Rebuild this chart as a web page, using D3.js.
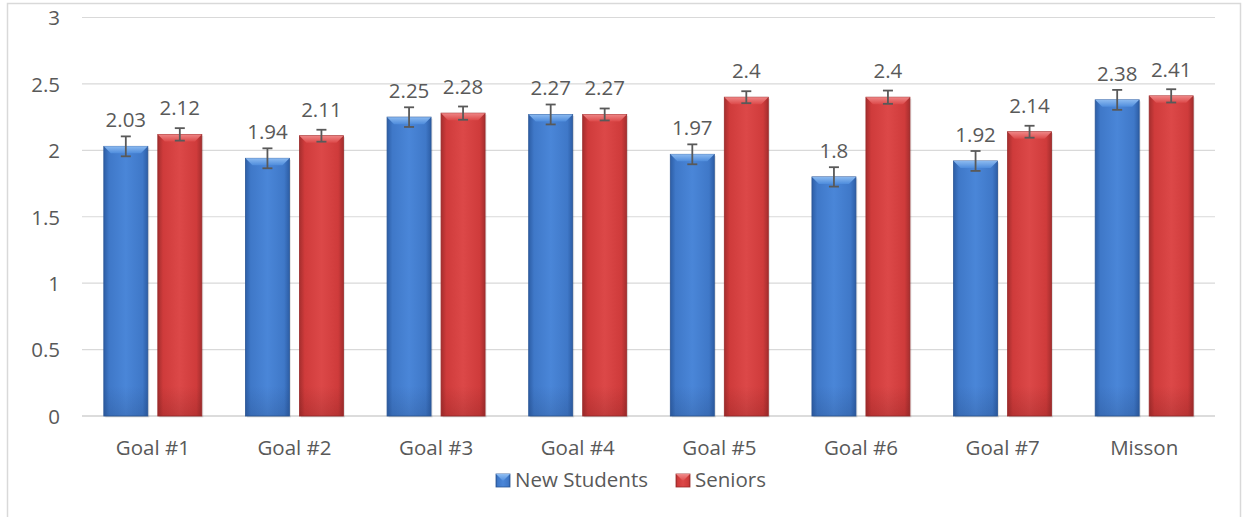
<!DOCTYPE html>
<html>
<head>
<meta charset="utf-8">
<script src="https://cdn.jsdelivr.net/npm/d3@7"></script>
<style>
  html, body { margin: 0; padding: 0; background: #fff; }
  svg { display: block; }
  text { font-family: "Open Sans", "Noto Sans", sans-serif; fill: #595959; }
</style>
</head>
<body>
<svg id="chart" width="1248" height="517"></svg>
<script>
const categories = ["Goal #1", "Goal #2", "Goal #3", "Goal #4", "Goal #5", "Goal #6", "Goal #7", "Misson"];
const seriesNames = ["New Students", "Seniors"];
const newStudents = [2.03, 1.94, 2.25, 2.27, 1.97, 1.80, 1.92, 2.38];
const seniors = [2.12, 2.11, 2.28, 2.27, 2.40, 2.40, 2.14, 2.41];
const newStudentsErr = [0.075, 0.075, 0.074, 0.075, 0.075, 0.073, 0.075, 0.075];
const seniorsErr = [0.047, 0.045, 0.05, 0.045, 0.045, 0.05, 0.045, 0.05];
const yTicks = [0, 0.5, 1, 1.5, 2, 2.5, 3];

const svg = d3.select("#chart");
const plot = { left: 82, right: 1215, top: 17.5, bottom: 416 };
const FS = 20.5;

// outer border
svg.append("rect").attr("x", 7.5).attr("y", 3.5).attr("width", 1233).attr("height", 530)
  .attr("fill", "#fff").attr("stroke", "#d9d9d9").attr("stroke-width", 1.5);

const defs = svg.append("defs");
function makeGrad(id, dark, mid, light) {
  const g = defs.append("linearGradient").attr("id", id).attr("x1", "0").attr("x2", "1").attr("y1", "0").attr("y2", "0");
  g.append("stop").attr("offset", "0%").attr("stop-color", dark);
  g.append("stop").attr("offset", "12%").attr("stop-color", mid);
  g.append("stop").attr("offset", "50%").attr("stop-color", light);
  g.append("stop").attr("offset", "88%").attr("stop-color", mid);
  g.append("stop").attr("offset", "100%").attr("stop-color", dark);
}
function makeVGrad(id, top, bottom) {
  const g = defs.append("linearGradient").attr("id", id).attr("x1", "0").attr("x2", "0").attr("y1", "0").attr("y2", "1");
  g.append("stop").attr("offset", "0%").attr("stop-color", top);
  g.append("stop").attr("offset", "100%").attr("stop-color", bottom);
}
makeGrad("gBlue", "#2d5ea6", "#3f78c8", "#4a86d8");
makeGrad("gRed", "#a52e2e", "#cf3b3b", "#dc4848");
makeVGrad("tBlue", "#8fbdf2", "#4f8ddd");
makeVGrad("tRed", "#f08a8a", "#dd4a4a");
makeVGrad("bBlue", "rgba(30,60,110,0)", "rgba(30,60,110,0.22)");
makeVGrad("bRed", "rgba(100,20,20,0)", "rgba(100,20,20,0.22)");
const fills = [{ body: "url(#gBlue)", top: "url(#tBlue)", bot: "url(#bBlue)", edge: "#2a5595" },
               { body: "url(#gRed)", top: "url(#tRed)", bot: "url(#bRed)", edge: "#9a2a2a" }];

const y = d3.scaleLinear().domain([0, 3]).range([plot.bottom, plot.top]);
const x0 = d3.scaleBand().domain(categories).range([plot.left, plot.right]).paddingInner(0).paddingOuter(0);
const groupW = 98;
const x1 = d3.scaleBand().domain(seriesNames).range([0, groupW]).paddingInner(0.185).paddingOuter(0);

// gridlines
svg.append("g").selectAll("line").data(yTicks).join("line")
  .attr("x1", plot.left).attr("x2", plot.right)
  .attr("y1", d => y(d)).attr("y2", d => y(d))
  .attr("stroke", d => d === 0 ? "#d0d0d0" : "#d9d9d9").attr("stroke-width", d => d === 0 ? 1.5 : 1.2);

// y axis labels
const yAxis = d3.axisLeft(y).tickValues(yTicks).tickFormat(d3.format("~g")).tickSize(0).tickPadding(0);
const ya = svg.append("g").attr("transform", `translate(60,0)`).call(yAxis);
ya.select(".domain").remove();
ya.selectAll("text").attr("font-size", FS).attr("fill", "#595959").attr("dy", "0.36em")
  .style("font-family", '"Open Sans", sans-serif');

// x axis labels
const xAxis = d3.axisBottom(x0).tickSize(0).tickPadding(0);
const xa = svg.append("g").attr("transform", `translate(0,${plot.bottom})`).call(xAxis);
xa.select(".domain").remove();
xa.selectAll("text").attr("font-size", FS).attr("fill", "#595959").attr("dy", 0).attr("y", 39)
  .style("font-family", '"Open Sans", sans-serif');

const data = categories.map((c, i) => ({
  cat: c,
  vals: [
    { s: seriesNames[0], v: newStudents[i], e: newStudentsErr[i], k: 0 },
    { s: seriesNames[1], v: seniors[i], e: seniorsErr[i], k: 1 }
  ]
}));

const groups = svg.append("g").selectAll("g").data(data).join("g")
  .attr("transform", d => `translate(${x0(d.cat) + x0.bandwidth() / 2 - groupW / 2},0)`);

const bars = groups.selectAll("g.bar").data(d => d.vals).join("g").attr("class", "bar");
const bw = x1.bandwidth();
// shadow
bars.append("rect")
  .attr("x", d => x1(d.s) + 1.5).attr("y", d => y(d.v) + 1.5)
  .attr("width", bw).attr("height", d => y(0) - y(d.v))
  .attr("fill", "rgba(0,0,0,0.10)");
bars.append("rect")
  .attr("x", d => x1(d.s)).attr("y", d => y(d.v))
  .attr("width", bw).attr("height", d => y(0) - y(d.v))
  .attr("fill", d => fills[d.k].body)
  .attr("stroke", d => fills[d.k].edge).attr("stroke-width", 0.8);
// bottom darkening
bars.append("rect")
  .attr("x", d => x1(d.s) + 0.5).attr("y", d => y(0) - 30)
  .attr("width", bw - 1).attr("height", 30)
  .attr("fill", d => fills[d.k].bot);
// top bevel
const bev = 7;
bars.append("path")
  .attr("d", d => {
    const xl = x1(d.s), xr = xl + bw, yt = y(d.v);
    return `M${xl},${yt} L${xr},${yt} L${xr - bev},${yt + bev} L${xl + bev},${yt + bev} Z`;
  })
  .attr("fill", d => fills[d.k].top).attr("opacity", 0.95);

// error bars
const eb = groups.selectAll("g.err").data(d => d.vals).join("g").attr("class", "err")
  .attr("stroke", "#595959").attr("stroke-width", 1.8);
eb.append("line")
  .attr("x1", d => x1(d.s) + bw / 2).attr("x2", d => x1(d.s) + bw / 2)
  .attr("y1", d => y(d.v + d.e)).attr("y2", d => y(d.v - d.e));
eb.append("line")
  .attr("x1", d => x1(d.s) + bw / 2 - 5).attr("x2", d => x1(d.s) + bw / 2 + 5)
  .attr("y1", d => y(d.v + d.e)).attr("y2", d => y(d.v + d.e));
eb.append("line")
  .attr("x1", d => x1(d.s) + bw / 2 - 5).attr("x2", d => x1(d.s) + bw / 2 + 5)
  .attr("y1", d => y(d.v - d.e)).attr("y2", d => y(d.v - d.e));

// value labels
groups.selectAll("text.val").data(d => d.vals).join("text").attr("class", "val")
  .attr("x", d => x1(d.s) + bw / 2).attr("y", d => y(d.v) - 19)
  .attr("text-anchor", "middle").attr("font-size", FS)
  .text(d => d3.format("~g")(d.v));

// legend
const legend = svg.append("g");
const legItems = [{ name: seriesNames[0], x: 496, k: 0 }, { name: seriesNames[1], x: 676, k: 1 }];
const li = legend.selectAll("g").data(legItems).join("g").attr("transform", d => `translate(${d.x},474)`);
li.append("rect").attr("width", 14).attr("height", 13).attr("fill", d => fills[d.k].body)
  .attr("stroke", d => fills[d.k].edge).attr("stroke-width", 0.8);
li.append("path").attr("d", "M0,0 L14,0 L7,7 Z").attr("fill", d => fills[d.k].top);
li.append("text").attr("x", 19).attr("y", 13).attr("font-size", FS).text(d => d.name);
</script>
</body>
</html>
